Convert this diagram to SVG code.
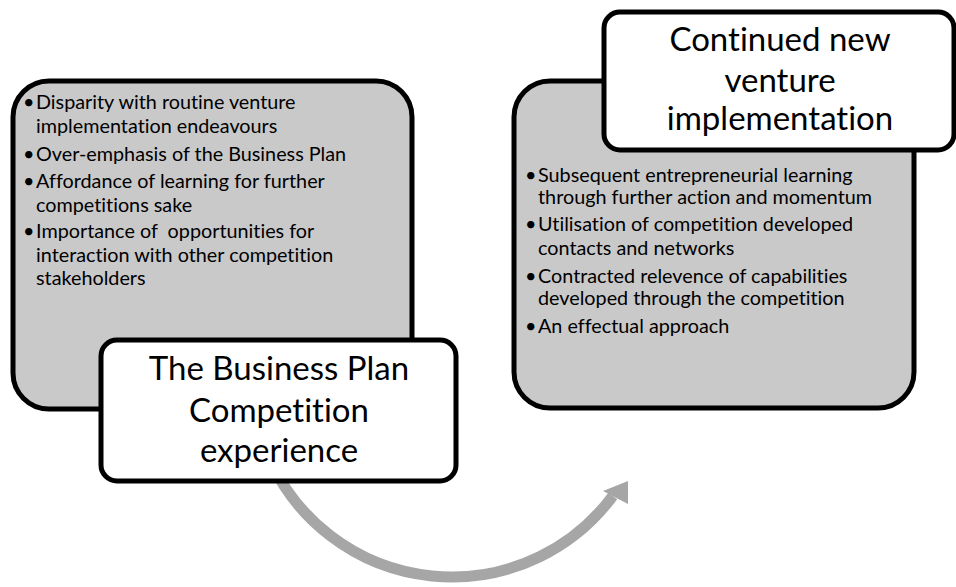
<svg xmlns="http://www.w3.org/2000/svg" width="956" height="587" viewBox="0 0 956 587">
<style>
.panel{fill:#c9c9c9;stroke:#000;stroke-width:5}
.title{fill:#fff;stroke:#000;stroke-width:5}
.t{font-family:Lato,"Liberation Sans",sans-serif;fill:#000;font-variant-ligatures:none}
.b{font-size:19.8px}
.h{font-size:33px;text-anchor:middle}
</style>
<g id="connectors">
<path d="M 270.7 461.5 A 200 200 0 0 0 612.8 495.9" fill="none" stroke="#a6a6a6" stroke-width="11"/>
<polygon points="628,481 603,491 628,504" fill="#a6a6a6"/>
</g>
<g id="node-left">
<rect class="panel" x="13" y="81" width="399" height="328" rx="36"/>
<g class="t b">
<text x="23" y="109">•</text><text x="36" y="109">Disparity with routine venture</text>
<text x="36" y="133">implementation endeavours</text>
<text x="23" y="161">•</text><text x="36" y="161">Over-emphasis of the Business Plan</text>
<text x="23" y="188">•</text><text x="36" y="188">Affordance of learning for further</text>
<text x="36" y="212">competitions sake</text>
<text x="23" y="238">•</text><text x="36" y="238" xml:space="preserve">Importance of  opportunities for</text>
<text x="36" y="262">interaction with other competition</text>
<text x="36" y="285">stakeholders</text>
</g>
</g>
<g id="node-right">
<rect class="panel" x="514" y="81" width="400" height="327" rx="36"/>
<g class="t b">
<text x="525" y="182">•</text><text x="538" y="182">Subsequent entrepreneurial learning</text>
<text x="538" y="204">through further action and momentum</text>
<text x="525" y="231">•</text><text x="538" y="231">Utilisation of competition developed</text>
<text x="538" y="255">contacts and networks</text>
<text x="525" y="283">•</text><text x="538" y="283">Contracted relevence of capabilities</text>
<text x="538" y="305">developed through the competition</text>
<text x="525" y="333">•</text><text x="538" y="333">An effectual approach</text>
</g>
</g>
<g id="node-title-left">
<rect class="title" x="101" y="340" width="355" height="141" rx="16"/>
<g class="t h">
<text x="279" y="380">The Business Plan</text>
<text x="279" y="422">Competition</text>
<text x="279" y="462">experience</text>
</g>
</g>
<g id="node-title-right">
<rect class="title" x="604" y="12" width="350" height="138" rx="16"/>
<g class="t h">
<text x="780" y="51">Continued new</text>
<text x="780" y="92">venture</text>
<text x="780" y="130">implementation</text>
</g>
</g>
</svg>
